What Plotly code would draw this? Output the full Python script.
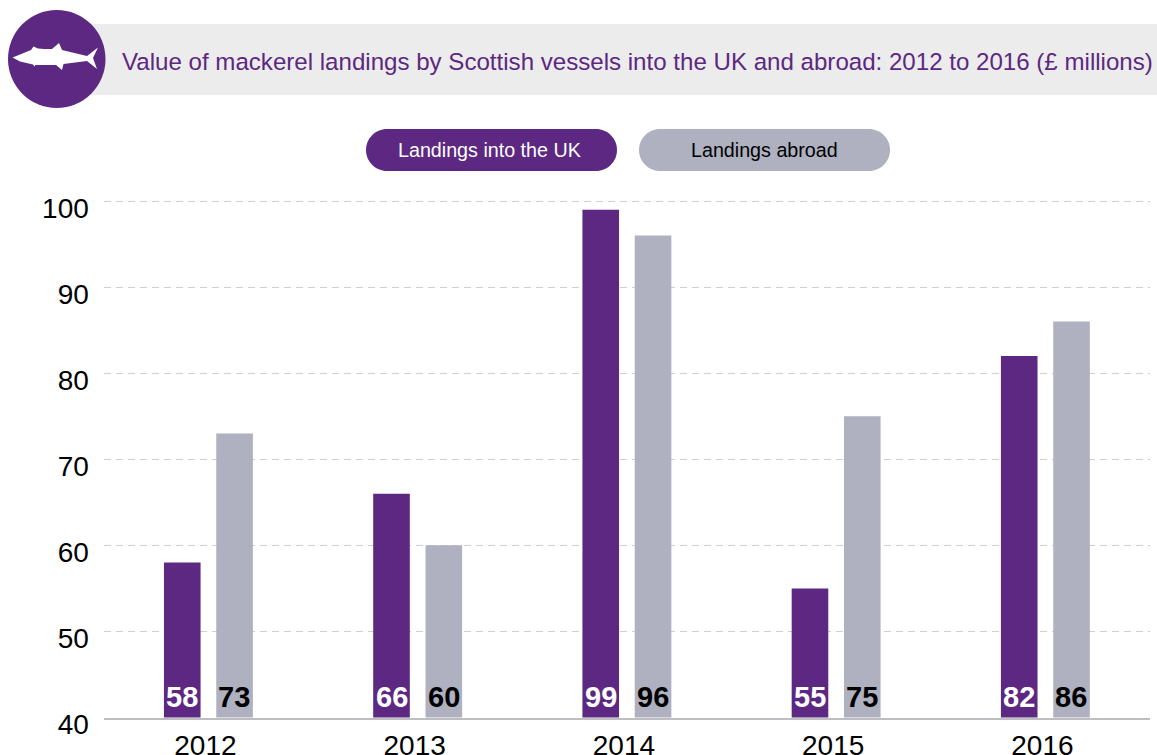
import plotly.graph_objects as go

WIDTH, HEIGHT = 1157, 755
PURPLE = "#5C2882"
GREY = "#AFB0C0"
BAND = "#ECECEC"

years = ["2012", "2013", "2014", "2015", "2016"]
landings_uk = [58, 66, 99, 55, 82]
landings_abroad = [73, 60, 96, 75, 86]
y_ticks = [40, 50, 60, 70, 80, 90, 100]
title_text = "Value of mackerel landings by Scottish vessels into the UK and abroad: 2012 to 2016 (£ millions)"
fish_outline = [
    (12.5, 57.5), (20, 54.5), (31, 50), (33.5, 46.5), (38, 48.5), (44, 49), (52, 49), (59, 43), (62, 50),
    (87, 56), (98, 47.5), (93, 58), (97, 69), (87, 61), (63.5, 64), (62, 70),
    (56, 65), (35.5, 65), (34.5, 66.5), (33, 64.5), (20, 61.5),
]


def px(x):
    return x / WIDTH


def py(y):
    return 1 - y / HEIGHT


def pill_path(x0, y0, x1, y1):
    # Capsule in paper coordinates; cubic segments approximate the round ends
    r = (y1 - y0) / 2
    k = 0.552 * r
    ym = y0 + r
    return (
        f"M {px(x0 + r)},{py(y0)} L {px(x1 - r)},{py(y0)} "
        f"C {px(x1 - r + k)},{py(y0)} {px(x1)},{py(ym - k)} {px(x1)},{py(ym)} "
        f"C {px(x1)},{py(ym + k)} {px(x1 - r + k)},{py(y1)} {px(x1 - r)},{py(y1)} "
        f"L {px(x0 + r)},{py(y1)} "
        f"C {px(x0 + r - k)},{py(y1)} {px(x0)},{py(ym + k)} {px(x0)},{py(ym)} "
        f"C {px(x0)},{py(ym - k)} {px(x0 + r - k)},{py(y0)} {px(x0 + r)},{py(y0)} Z"
    )


def box(**kw):
    return dict(xref="paper", yref="paper", line_width=0, layer="above", **kw)


fish_path = "M " + " L ".join(f"{px(x)},{py(y)}" for x, y in fish_outline) + " Z"

shapes = [
    box(type="rect", x0=px(57), x1=1, y0=py(95), y1=py(24), fillcolor=BAND),
    box(type="circle", x0=px(8), x1=px(105.5), y0=py(108), y1=py(10), fillcolor=PURPLE),
    box(type="path", path=fish_path, fillcolor="white"),
    box(type="path", path=pill_path(366, 129, 617, 171), fillcolor=PURPLE),
    box(type="path", path=pill_path(639, 129, 890, 171), fillcolor=GREY),
]


def note(x, y, text, color, size):
    return dict(
        xref="paper", yref="paper", x=px(x), y=py(y), text=text, showarrow=False,
        xanchor="center", yanchor="middle",
        font=dict(family="Liberation Sans", size=size, color=color),
    )


annotations = [
    note(637, 61, title_text, PURPLE, 24.1),
    note(489.5, 150, "Landings into the UK", "white", 19.7),
    note(764, 150, "Landings abroad", "black", 19.7),
]


def value_labels(values, colour, shift):
    # Values sit just above the axis floor, because the bars start below the visible range
    return [
        dict(
            xref="x", yref="y", x=i, y=y_ticks[0], text=str(v), showarrow=False,
            xanchor="center", yanchor="bottom", xshift=shift, yshift=4, borderpad=0,
            font=dict(family="Liberation Sans", size=29, color=colour, weight="bold"),
        )
        for i, v in enumerate(values)
    ]


annotations += value_labels(landings_uk, "white", -26)
annotations += value_labels(landings_abroad, "black", 26)

fig = go.Figure()
for name, values, colour in [
    ("Landings into the UK", landings_uk, PURPLE),
    ("Landings abroad", landings_abroad, GREY),
]:
    fig.add_trace(go.Bar(x=years, y=values, name=name, marker_color=colour, marker_line_width=0))

fig.update_layout(
    width=WIDTH, height=HEIGHT, autosize=False,
    margin=dict(l=0, r=0, t=0, b=0, pad=0, autoexpand=False),
    paper_bgcolor="white", plot_bgcolor="white",
    barmode="group", bargap=0.5, bargroupgap=0.3,
    showlegend=False, shapes=shapes, annotations=annotations,
    font=dict(family="Liberation Sans", color="black"),
)
fig.update_xaxes(
    domain=[px(103.8), px(1150)], type="category", categoryorder="array", categoryarray=years,
    range=[-0.5, len(years) - 0.5],
    showgrid=False, zeroline=False, showline=True, linecolor="#BEBEC2", linewidth=2,
    ticks="inside", tickson="boundaries", tickcolor="white", ticklen=2, tickwidth=1,
    tickfont=dict(size=28), ticklabelstandoff=2, ticklabelshift=-3,
)
fig.update_yaxes(
    domain=[py(717.5), py(199.3)], range=[40, 100.2], tickvals=y_ticks,
    showgrid=True, gridcolor="#CFCFCF", griddash="7px,5px", gridwidth=1,
    zeroline=False, showline=False, ticks="", tickfont=dict(size=28),
    ticklabelstandoff=14, ticklabelshift=7,
)

fig.write_html("out.html", config={"displayModeBar": False, "responsive": False})
